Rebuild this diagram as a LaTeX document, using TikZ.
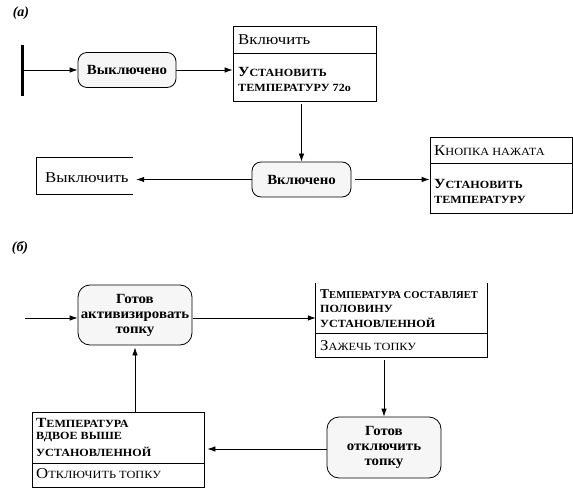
\documentclass[tikz,border=0pt]{standalone}
\usepackage{fontspec}
\setmainfont{Liberation Serif}
\newfontfamily\wreg[FakeStretch=1.12]{Liberation Serif}
\newfontfamily\wbld[FakeStretch=1.1]{Liberation Serif}
\newfontfamily\wst[FakeStretch=1.06]{Liberation Serif}
\usetikzlibrary{arrows.meta}
\newcommand\smc[1]{{\fontsize{11}{12}\selectfont #1}}
\newcommand\smcn[1]{{\fontsize{10.6}{12}\selectfont #1}}
\begin{document}
\begin{tikzpicture}[x=1pt,y=-1pt,
  font=\fontsize{14}{16}\selectfont,
  state/.style={draw, rounded corners=9pt, fill=gray!7, line width=0.8pt,
    font=\wst\fontsize{14}{16}\selectfont\bfseries, align=center, inner sep=0pt},
  box/.style={draw, line width=0.8pt, inner sep=0pt},
  openbox/.style={inner sep=0pt},
  txt/.style={anchor=west, inner sep=0pt, font=\wreg\fontsize{15}{16}\selectfont},
  btxt/.style={anchor=west, inner sep=0pt, font=\wbld\fontsize{14}{16}\selectfont\bfseries},
  ntxt/.style={anchor=west, inner sep=0pt, font=\fontsize{13.5}{16}\selectfont\bfseries},
  lbl/.style={inner sep=0pt, font=\fontsize{14}{16}\selectfont\bfseries\itshape},
  arr/.style={-{Latex[length=8pt,width=5.5pt]}, line width=0.8pt},
  line/.style={line width=0.8pt}]
\useasboundingbox (0,0) rectangle (573,489);

% ---------- (a) ----------
\node[lbl] (la) at (21,13) {(а)};
\node[fill=black, minimum width=3pt, minimum height=51pt, inner sep=0pt] (bar) at (22,70.5) {};
\node[state, minimum width=98pt, minimum height=35pt] (off) at (127,70) {Выключено};
\node[box, minimum width=143pt, minimum height=75pt] (vkl) at (304.5,63.5) {};
\coordinate (d1) at (0,53);
\draw[line] (vkl.west |- d1) -- (vkl.east |- d1);
\node[txt] (vklt) at (238,40) {Включить};
\node[btxt] (vkla) at (238,72) {У\smc{СТАНОВИТЬ}};
\node[btxt] (vklb) at (238,88) {\smc{ТЕМПЕРАТУРУ 72о}};

\node[state, minimum width=99pt, minimum height=35pt] (on) at (301.5,179.5) {Включено};
\node[openbox, minimum width=96pt, minimum height=36pt] (offact) at (85,176) {};
\draw[line] (offact.north east) -- (offact.north west) -- (offact.south west) -- (offact.south east);
\node[txt] (offactt) at (45,178) {Выключить};

\node[box, minimum width=142pt, minimum height=76pt] (btn) at (501,175) {};
\coordinate (d2) at (0,163);
\draw[line] (btn.west |- d2) -- (btn.east |- d2);
\node[txt] (btnt) at (434,151) {К\smc{НОПКА НАЖАТА}};
\node[btxt] (btna) at (434,184) {У\smc{СТАНОВИТЬ}};
\node[btxt] (btnb) at (434,200) {\smc{ТЕМПЕРАТУРУ}};

\draw[arr] (bar.east |- off) -- (off.west);
\draw[arr] (off.east) -- (off -| vkl.west);
\draw[arr, shorten <=3pt] (on |- vkl.south) -- (on.north);
\draw[arr, shorten >=3pt] (on.west) -- (on -| offact.east);
\draw[arr, shorten <=4pt] (on.east) -- (on -| btn.west);

% ---------- (b) ----------
\node[lbl] (lb) at (20,248) {(б)};
\node[state, rounded corners=12pt, minimum width=114pt, minimum height=60pt] (ready) at (135,315)
  {Готов\\[-1pt]активизировать\\[-1pt]топку};
\coordinate (in) at (25,318);

\node[openbox, minimum width=171pt, minimum height=74pt] (half) at (401.5,320) {};
\draw[line] (half.north west) -- (half.south west) -- (half.south east) -- (half.north east);
\coordinate (d3) at (0,333);
\draw[line] (half.west |- d3) -- (half.east |- d3);
\node[ntxt] (halfa) at (320,294) {Т\smcn{ЕМПЕРАТУРА СОСТАВЛЯЕТ}};
\node[btxt] (halfb) at (320,308.5) {\smc{ПОЛОВИНУ}};
\node[btxt] (halfc) at (320,323) {\smc{УСТАНОВЛЕННОЙ}};
\node[txt] (halfd) at (320,346) {З\smc{АЖЕЧЬ ТОПКУ}};

\node[state, rounded corners=12pt, minimum width=114pt, minimum height=61pt] (roff) at (384,447.5)
  {Готов\\[-1pt]отключить\\[-1pt]топку};

\node[box, minimum width=172pt, minimum height=75pt] (dbl) at (118,449.5) {};
\coordinate (d4) at (0,463);
\draw[line] (dbl.west |- d4) -- (dbl.east |- d4);
\node[btxt] (dbla) at (36,423) {Т\smc{ЕМПЕРАТУРА}};
\node[btxt] (dblb) at (36,437.5) {\smc{ВДВОЕ ВЫШЕ}};
\node[btxt] (dblc) at (36,452) {\smc{УСТАНОВЛЕННОЙ}};
\node[txt] (dbld) at (36,474) {О\smc{ТКЛЮЧИТЬ ТОПКУ}};

\draw[arr] (in) -- (in -| ready.west);
\draw[arr, shorten <=1pt] (ready.east |- in) -- (in -| half.west);
\draw[arr, shorten <=3pt] (roff |- half.south) -- (roff.north);
\draw[arr, shorten >=3pt] (roff.west |- 0,449) -- (dbl.east |- 0,449);
\draw[arr, shorten >=2pt] (ready |- dbl.north) -- (ready.south);
\end{tikzpicture}
\end{document}
